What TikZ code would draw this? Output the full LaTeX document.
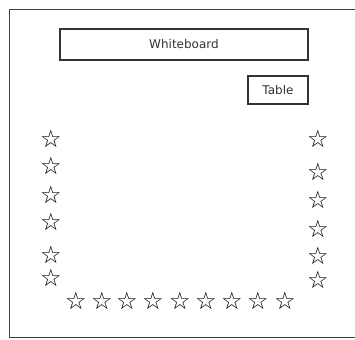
\documentclass[tikz,border=0pt]{standalone}
\usepackage{fontspec}
\setmainfont{DejaVu Sans}
\newfontfamily\starfont{DejaVu Sans}
\begin{document}
\begin{tikzpicture}[x=1pt,y=-1pt,
  frame/.style={draw=black!75,line width=1pt},
  box/.style={draw=black!80,line width=1.2pt,inner sep=0pt,font=\fontsize{12}{14}\selectfont,text=black!80},
  st/.style={inner sep=0pt,font=\starfont\fontsize{24}{24}\selectfont,text height=0.72em,text depth=0pt,yshift=-4.5pt}]
\useasboundingbox (0,0) rectangle (355,339);
\fill[white] (0,0) rectangle (355,339);
\coordinate (tr) at (356,10);
\coordinate (tl) at (9,10);
\coordinate (bl) at (9,337);
\coordinate (br) at (356,337);
\draw[frame] (tr) -- (tl) -- (bl) -- (br);
\node[box,minimum width=248pt,minimum height=31pt] (wb) at (184,44.5) {Whiteboard};
\node[box,minimum width=60pt,minimum height=28pt] (tb) at (278,90) {Table};
% left column
\foreach \y [count=\i] in {139,166,195,222,255,278}
  \node[st] (l\i) at (51,\y) {☆};
% right column
\foreach \y [count=\i] in {139,172,200,229,256,280}
  \node[st] (r\i) at (318,\y) {☆};
% bottom row
\foreach \x [count=\i] in {76,102,127,153,180,206,232,258,285}
  \node[st] (b\i) at (\x,301) {☆};
\end{tikzpicture}
\end{document}
